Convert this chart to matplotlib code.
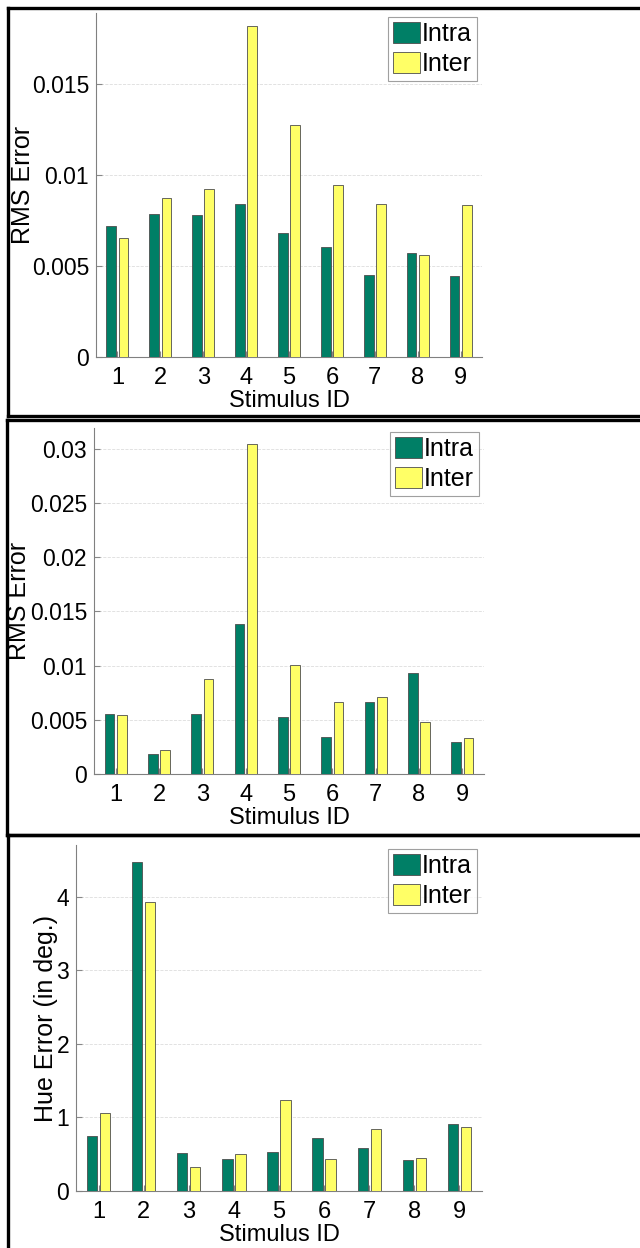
import matplotlib
matplotlib.use("Agg")
import matplotlib.pyplot as plt
import numpy as np
from matplotlib.lines import Line2D

plt.rcParams["font.family"] = ["Liberation Sans", "DejaVu Sans"]

stimulus_ids = [1, 2, 3, 4, 5, 6, 7, 8, 9]
series_names = ["Intra", "Inter"]

# panel 1: RMS error
rms1_intra = [0.00722, 0.00788, 0.00778, 0.00839, 0.00681, 0.00604, 0.00452, 0.00573, 0.00443]
rms1_inter = [0.00654, 0.00872, 0.00923, 0.01817, 0.01275, 0.00945, 0.00841, 0.00560, 0.00833]

# panel 2: RMS error
rms2_intra = [0.00557, 0.00182, 0.00554, 0.01385, 0.00529, 0.00342, 0.00668, 0.00929, 0.00295]
rms2_inter = [0.00542, 0.00218, 0.00880, 0.03040, 0.01006, 0.00665, 0.00714, 0.00480, 0.00329]

# panel 3: hue error
hue_intra = [0.742, 4.475, 0.511, 0.434, 0.525, 0.715, 0.584, 0.416, 0.905]
hue_inter = [1.054, 3.930, 0.330, 0.507, 1.231, 0.434, 0.837, 0.443, 0.864]

INTRA_COLOR = "#007F66"
INTER_COLOR = "#FFFF66"
W, H = 640, 1248

fig = plt.figure(figsize=(W / 100, H / 100), dpi=100)


def px_axes(left, right, top, bottom):
    return fig.add_axes([left / W, 1 - bottom / H, (right - left) / W, (bottom - top) / H])


def draw_panel(ax, box, intra, inter, ymax, yticks, yticklabels, ylabel, ylabel_px):
    left, right, top, bottom = box
    axw, axh = right - left, bottom - top
    x = np.array(stimulus_ids, dtype=float)
    off, bw = 0.143, 0.229
    ax.bar(x - off, intra, bw, color=INTRA_COLOR, edgecolor="#4d4d4d", linewidth=0.6,
           label=series_names[0], zorder=3)
    ax.bar(x + off, inter, bw, color=INTER_COLOR, edgecolor="#4d4d4d", linewidth=0.6,
           label=series_names[1], zorder=3)
    ax.set_xlim(0.5, 9.5)
    ax.set_ylim(0, ymax)
    ax.set_xticks(stimulus_ids)
    ax.set_xticklabels([str(s) for s in stimulus_ids], fontsize=17)
    ax.set_yticks(yticks)
    ax.set_yticklabels(yticklabels, fontsize=16.5)
    ax.tick_params(axis="both", direction="in", length=4, color="#888888", pad=5)
    ax.tick_params(axis="x", pad=7)
    for side in ("top", "right"):
        ax.spines[side].set_visible(False)
    for side in ("left", "bottom"):
        ax.spines[side].set_color("#808080")
        ax.spines[side].set_linewidth(0.8)
    ax.yaxis.grid(True, linestyle="--", color="#dddddd", linewidth=0.6, zorder=0)
    ax.set_axisbelow(True)
    ax.set_xlabel("Stimulus ID", fontsize=17)
    ax.xaxis.set_label_coords(0.5, -33 / axh)
    ax.set_ylabel(ylabel, fontsize=18)
    ax.yaxis.set_label_coords((ylabel_px - left) / axw, 0.5)
    leg = ax.legend(loc="upper right", bbox_to_anchor=(1 - 5 / axw, 1 - 4 / axh),
                    fontsize=18, frameon=True, fancybox=False,
                    handlelength=1.1, handleheight=0.9, handletextpad=0.08,
                    borderpad=0.2, labelspacing=0.25, borderaxespad=0.0)
    leg.get_frame().set_edgecolor("#888888")
    leg.get_frame().set_linewidth(0.8)


box1 = (96, 482, 13, 357)
ax1 = px_axes(*box1)
draw_panel(ax1, box1, rms1_intra, rms1_inter, 0.0189,
           [0, 0.005, 0.01, 0.015], ["0", "0.005", "0.01", "0.015"],
           "RMS Error", 35)

box2 = (94, 484, 428, 774)
ax2 = px_axes(*box2)
draw_panel(ax2, box2, rms2_intra, rms2_inter, 0.0319,
           [0, 0.005, 0.01, 0.015, 0.02, 0.025, 0.03],
           ["0", "0.005", "0.01", "0.015", "0.02", "0.025", "0.03"],
           "RMS Error", 31)

box3 = (76, 482, 845, 1191)
ax3 = px_axes(*box3)
draw_panel(ax3, box3, hue_intra, hue_inter, 4.70,
           [0, 1, 2, 3, 4], ["0", "1", "2", "3", "4"],
           "Hue Error (in deg.)", 58)


# black frames around each panel
def frame(left, top, bottom):
    kw = dict(color="black", linewidth=2.4, transform=fig.transFigure)
    fig.add_artist(Line2D([left / W, 1.0], [1 - top / H, 1 - top / H], **kw))
    fig.add_artist(Line2D([left / W, left / W], [1 - top / H, 1 - bottom / H], **kw))
    if bottom < H:
        fig.add_artist(Line2D([left / W, 1.0], [1 - bottom / H, 1 - bottom / H], **kw))


frame(8, 8, 416)
frame(7, 420, 835)
frame(8, 835, H + 5)

fig.savefig("out.png", dpi=100)
